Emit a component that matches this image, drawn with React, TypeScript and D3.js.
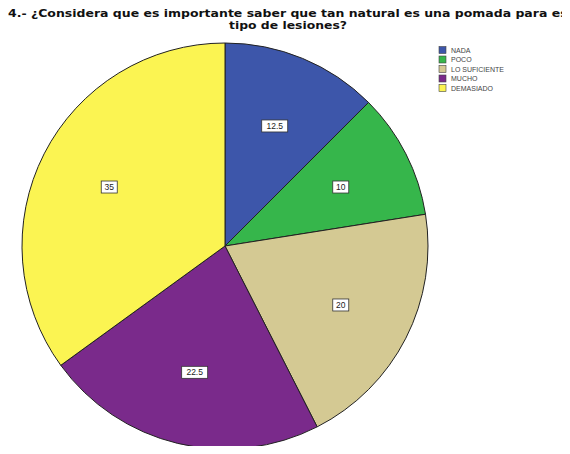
import React from "react";
import * as d3 from "d3";

const categories = ["NADA", "POCO", "LO SUFICIENTE", "MUCHO", "DEMASIADO"];
const percents = [12.5, 10, 20, 22.5, 35];
const colors = ["#3d56aa", "#36b64b", "#d4c993", "#7a2a8b", "#fbf452"];
const titleLines = [
  "4.- ¿Considera que es importante saber que tan natural es una pomada para este",
  "tipo de lesiones?",
];

const W = 570;
const H = 454;

export default function App() {
  const cx = 225;
  const cy = 246;
  const r = 203;

  const pie = d3
    .pie<number>()
    .sort(null)
    .value((d) => d)
    .startAngle(0)
    .endAngle(2 * Math.PI);
  const arcs = pie(percents);
  const arc = d3.arc<d3.PieArcDatum<number>>().innerRadius(0).outerRadius(r);
  const labelArc = d3
    .arc<d3.PieArcDatum<number>>()
    .innerRadius(r * 0.64)
    .outerRadius(r * 0.64);

  const fmt = (v: number) => (Number.isInteger(v) ? String(v) : v.toFixed(1));

  const legendY = d3
    .scalePoint<string>()
    .domain(categories)
    .range([50, 88]);

  return (
    <div style={{ margin: -8 }}>
      <svg width={W} height={H} style={{ display: "block", background: "#fff" }}>
        <g fontFamily="DejaVu Sans, sans-serif" fontWeight="bold" fontSize={11} fill="#111">
          <text x={8} y={17} textLength={574} lengthAdjust="spacingAndGlyphs">
            {titleLines[0]}
          </text>
          <text x={288} y={29} textAnchor="middle" textLength={118} lengthAdjust="spacingAndGlyphs">
            {titleLines[1]}
          </text>
        </g>

        <g transform={`translate(${cx},${cy})`}>
          {arcs.map((a, i) => (
            <path key={i} d={arc(a) || ""} fill={colors[i]} stroke="#222" strokeWidth={1} />
          ))}
          {arcs.map((a, i) => {
            const [lx, ly] = labelArc.centroid(a);
            const t = fmt(percents[i]);
            const bw = t.length * 5 + 6;
            return (
              <g key={"l" + i} transform={`translate(${lx},${ly})`}>
                <rect x={-bw / 2} y={-6} width={bw} height={12} fill="#fff" stroke="#333" strokeWidth={0.8} />
                <text
                  y={3}
                  textAnchor="middle"
                  fontFamily="Liberation Sans, Arial, sans-serif"
                  fontSize={8.5}
                  fill="#222"
                >
                  {t}
                </text>
              </g>
            );
          })}
        </g>

        <g fontFamily="Liberation Sans, Arial, sans-serif" fontSize={7} fill="#444">
          {categories.map((c, i) => {
            const y = legendY(c) as number;
            return (
              <g key={c}>
                <rect x={439} y={y - 3.5} width={7} height={7} fill={colors[i]} stroke="#444" strokeWidth={0.6} />
                <text x={451} y={y + 2.5}>
                  {c}
                </text>
              </g>
            );
          })}
        </g>
      </svg>
    </div>
  );
}
